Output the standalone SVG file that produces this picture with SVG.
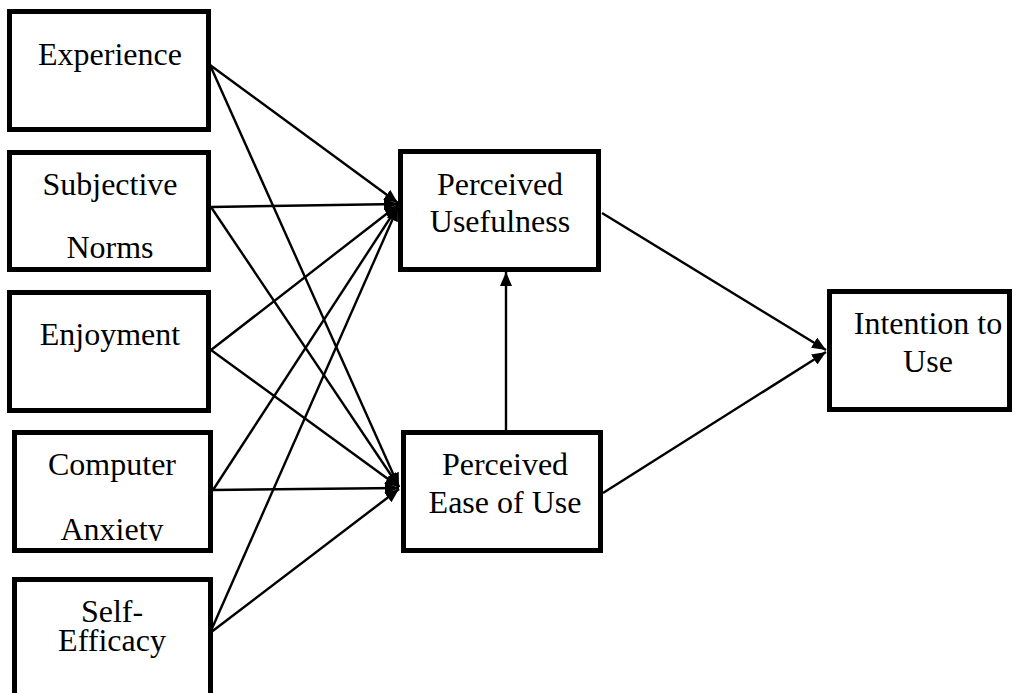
<svg xmlns="http://www.w3.org/2000/svg" width="1016" height="693" viewBox="0 0 1016 693">
<style>
.box{fill:#fff;stroke:#000;stroke-width:5}
.t{font-family:'Liberation Serif','Times New Roman','DejaVu Serif',serif;font-size:32px;fill:#000;text-anchor:middle}
.c{stroke:#000;stroke-width:2.4;fill:none;marker-end:url(#ah)}
</style>
<defs>
<marker id="ah" viewBox="0 0 14 12" refX="14" refY="6" markerWidth="14" markerHeight="12" markerUnits="userSpaceOnUse" orient="auto">
<path d="M0,0 L14,6 L0,12 Z" fill="#000"/>
</marker>
<clipPath id="clipCA"><rect x="14" y="430" width="196" height="111"/></clipPath>
</defs>
<rect width="1016" height="693" fill="#fff"/>
<g id="connectors">
<line class="c" x1="210" y1="65" x2="398" y2="203"/>
<line class="c" x1="210" y1="65" x2="399" y2="487"/>
<line class="c" x1="211" y1="207" x2="398" y2="204"/>
<line class="c" x1="211" y1="207" x2="399" y2="487"/>
<line class="c" x1="211" y1="350" x2="398" y2="205"/>
<line class="c" x1="211" y1="350" x2="399" y2="487"/>
<line class="c" x1="213" y1="490" x2="398" y2="206"/>
<line class="c" x1="213" y1="490" x2="399" y2="488"/>
<line class="c" x1="210" y1="633" x2="398" y2="207"/>
<line class="c" x1="210" y1="633" x2="399" y2="489"/>
<line class="c" x1="506" y1="430" x2="506" y2="272"/>
<line class="c" x1="602" y1="213" x2="826" y2="350"/>
<line class="c" x1="603" y1="493" x2="826" y2="352"/>
</g>
<g id="experience">
<rect class="box" x="9.5" y="11.5" width="199" height="118"/>
<text class="t" x="110" y="65">Experience</text>
</g>
<g id="subjective-norms">
<rect class="box" x="9.5" y="152.5" width="199" height="117"/>
<text class="t" x="110" y="195">Subjective</text>
<text class="t" x="110" y="258">Norms</text>
</g>
<g id="enjoyment">
<rect class="box" x="9.5" y="292.5" width="199" height="118"/>
<text class="t" x="110" y="345">Enjoyment</text>
</g>
<g id="computer-anxiety">
<rect class="box" x="14.5" y="432.5" width="196" height="118"/>
<text class="t" x="112" y="475">Computer</text>
<text class="t" x="112" y="540" clip-path="url(#clipCA)">Anxiety</text>
</g>
<g id="self-efficacy">
<rect class="box" x="14.5" y="579.5" width="196" height="130"/>
<text class="t" x="112" y="622">Self-</text>
<text class="t" x="112" y="651">Efficacy</text>
</g>
<g id="perceived-usefulness">
<rect class="box" x="400.5" y="151.5" width="198" height="118"/>
<text class="t" x="500" y="195">Perceived</text>
<text class="t" x="500" y="232">Usefulness</text>
</g>
<g id="perceived-ease-of-use">
<rect class="box" x="403.5" y="432.5" width="197" height="118"/>
<text class="t" x="505" y="475">Perceived</text>
<text class="t" x="505" y="513">Ease of Use</text>
</g>
<g id="intention-to-use">
<rect class="box" x="829.5" y="291.5" width="180" height="118"/>
<text class="t" x="928" y="334">Intention to</text>
<text class="t" x="928" y="372">Use</text>
</g>
</svg>
